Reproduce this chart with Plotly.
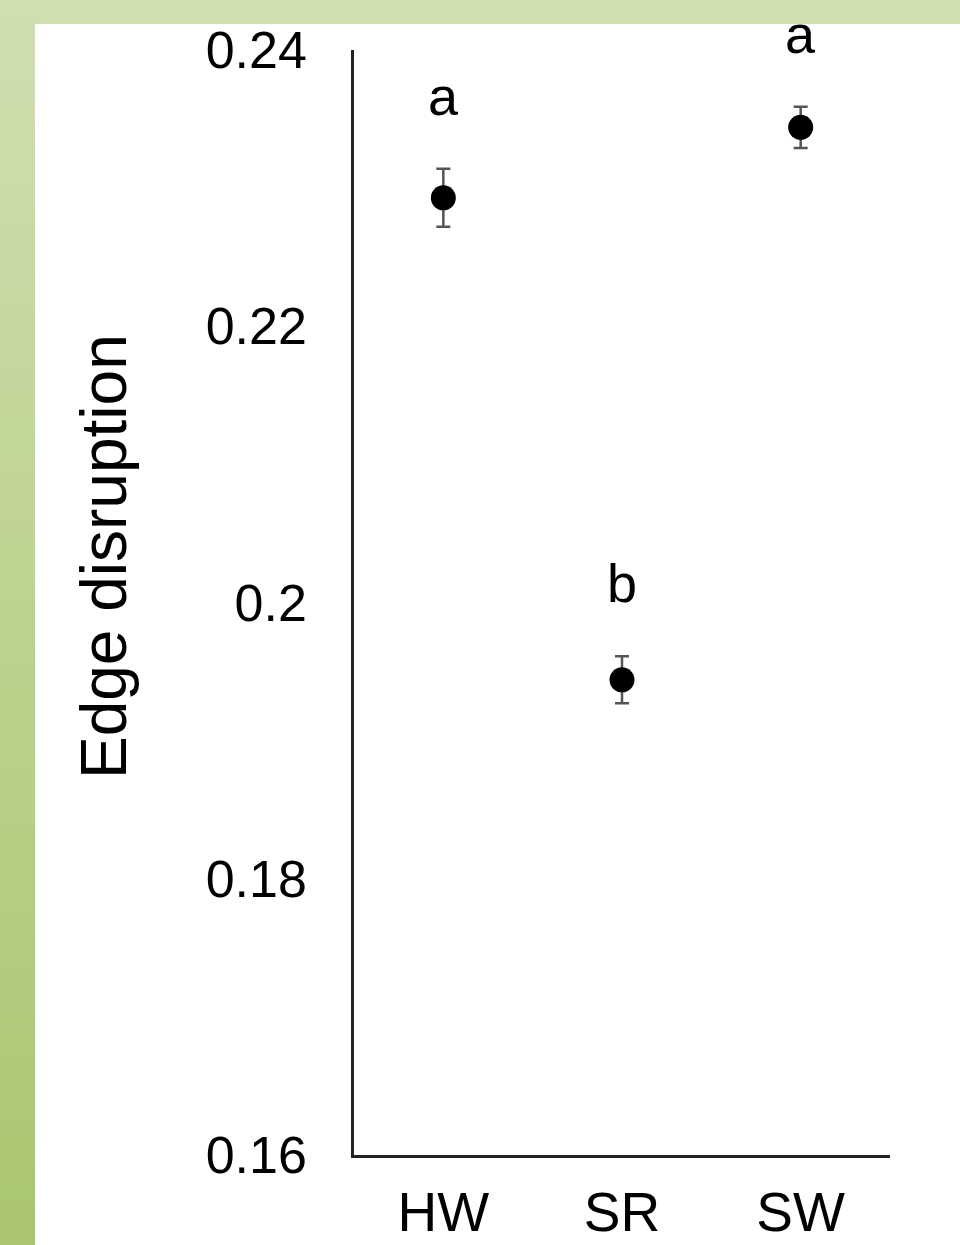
import plotly.graph_objects as go

# Edge disruption by group (mean ± error)
groups = ["HW", "SR", "SW"]
means = [0.2293, 0.1944, 0.2344]
errors = [0.0021, 0.0017, 0.0015]
letters = ["a", "b", "a"]

y_ticks = [0.16, 0.18, 0.2, 0.22, 0.24]
y_tick_labels = ["0.16", "0.18", "0.2", "0.22", "0.24"]

W, H = 960, 1245
ML, MR, MT, MB = 354, 70, 50, 90
PW, PH = W - ML - MR, H - MT - MB

FONT = "Liberation Sans, Arial, Helvetica, sans-serif"


def px_x(px):
    return (px - ML) / PW


def px_y(py):
    return (H - MB - py) / PH


fig = go.Figure()

fig.add_trace(go.Scatter(
    x=groups,
    y=means,
    mode="markers",
    marker=dict(color="black", size=25),
    error_y=dict(type="data", array=errors, color="#555555", thickness=2.5, width=7),
    cliponaxis=False,
    showlegend=False,
))

shapes = []
# green frame: gradient strip on the left
top_rgb = (207, 223, 176)
bot_rgb = (169, 198, 111)
n_bands = 60
y0, y1 = 0, H
for i in range(n_bands):
    t = i / (n_bands - 1)
    c = tuple(round(a + (b - a) * t) for a, b in zip(top_rgb, bot_rgb))
    ya = y0 + (y1 - y0) * i / n_bands
    yb = y0 + (y1 - y0) * (i + 1) / n_bands + 1
    shapes.append(dict(
        type="rect", xref="paper", yref="paper", layer="below",
        x0=px_x(0), x1=px_x(35), y0=px_y(yb), y1=px_y(ya),
        fillcolor="rgb(%d,%d,%d)" % c, line=dict(width=0),
    ))
# white panel
shapes.append(dict(
    type="rect", xref="paper", yref="paper", layer="below",
    x0=px_x(35), x1=px_x(W + 5), y0=px_y(H + 5), y1=px_y(24),
    fillcolor="white", line=dict(width=0),
))

annotations = []
for g, m, e, s in zip(groups, means, errors, letters):
    annotations.append(dict(
        x=g, y=m + e, xref="x", yref="y", text=s, showarrow=False,
        yanchor="bottom", yshift=41,
        font=dict(family=FONT, size=54, color="black"),
    ))
annotations.append(dict(
    x=px_x(104), y=px_y(557), xref="paper", yref="paper",
    text="Edge disruption", textangle=-90, showarrow=False,
    xanchor="center", yanchor="middle",
    font=dict(family=FONT, size=64, color="black"),
))

fig.update_layout(
    width=W, height=H,
    margin=dict(l=ML, r=MR, t=MT, b=MB),
    paper_bgcolor="rgb(207,223,176)",
    plot_bgcolor="rgba(0,0,0,0)",
    shapes=shapes,
    annotations=annotations,
    xaxis=dict(
        type="category", range=[-0.5, 2.5], automargin=False,
        showline=True, linecolor="#222222", linewidth=2.5,
        showgrid=False, zeroline=False, ticks="",
        tickfont=dict(family=FONT, size=55, color="black"),
        ticklabelstandoff=7,
    ),
    yaxis=dict(
        range=[0.16, 0.24], automargin=False,
        tickvals=y_ticks, ticktext=y_tick_labels,
        showline=True, linecolor="#222222", linewidth=2.5,
        showgrid=False, zeroline=False, ticks="",
        tickfont=dict(family=FONT, size=52, color="black"),
        ticklabelstandoff=34,
    ),
)

fig.write_html("out.html")
